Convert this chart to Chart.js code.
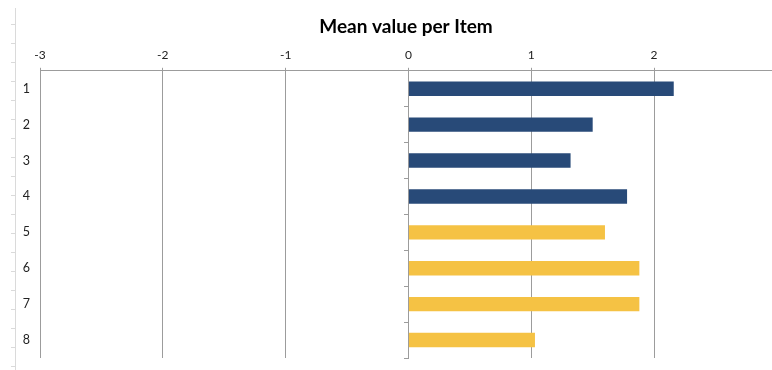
<!DOCTYPE html>
<html>
<head>
<meta charset="utf-8">
<script src="https://cdn.jsdelivr.net/npm/chart.js@4"></script>
<style>
  html, body { margin: 0; padding: 0; background: #fff; }
  #wrap { width: 772px; height: 370px; position: relative; }
</style>
</head>
<body>
<div id="wrap"><canvas id="myChart"></canvas></div>
<script>
// items and their mean values
const items = ['1', '2', '3', '4', '5', '6', '7', '8'];
const means = [2.16, 1.5, 1.32, 1.78, 1.6, 1.88, 1.88, 1.03];
const firstBlock = 4; // items 1-4 drawn in blue, the rest in yellow

const BLUE = '#284a78';
const YELLOW = '#f5c244';
const GRID = '#9c9c9c';

// thin spreadsheet edge on the left side
const sheetEdge = {
    id: 'sheetEdge',
    beforeDraw(chart) {
        const ctx = chart.ctx;
        ctx.save();
        ctx.strokeStyle = '#dadada';
        ctx.lineWidth = 1;
        ctx.beginPath();
        ctx.moveTo(15.5, 8);
        ctx.lineTo(15.5, chart.height);
        for (let y = 23.5; y < chart.height; y += 19) {
            ctx.moveTo(11, Math.round(y) + 0.5);
            ctx.lineTo(15, Math.round(y) + 0.5);
        }
        ctx.stroke();
        ctx.restore();
    }
};

const ctx = document.getElementById('myChart').getContext('2d');
const myChart = new Chart(ctx, {
    type: 'bar',
    data: {
        labels: items,
        datasets: [{
            label: 'Mean value',
            data: means,
            yAxisID: 'y',
            backgroundColor: means.map((v, i) => i < firstBlock ? BLUE : YELLOW),
            barPercentage: 0.4,
            categoryPercentage: 1
        }]
    },
    options: {
        indexAxis: 'y',
        responsive: true,
        maintainAspectRatio: false,
        animation: false,
        layout: { padding: { top: 0, left: 0, right: 0, bottom: 12 } },
        plugins: {
            legend: { display: false },
            tooltip: { enabled: false },
            title: {
                display: true,
                fullSize: false, // centre over the plot, not the canvas
                text: 'Mean value per Item',
                color: '#000',
                font: { family: 'Lato', size: 19, weight: 'bold' },
                padding: { top: 15, bottom: 5 }
            }
        },
        scales: {
            x: {
                position: 'top',
                min: -3,
                max: 2.96,
                afterFit: s => { s.height = 28; },
                ticks: {
                    stepSize: 1,
                    includeBounds: false,
                    color: '#222',
                    padding: 5,
                    font: { family: 'Lato', size: 12 }
                },
                grid: { color: GRID, lineWidth: 1, tickLength: 3 },
                border: { color: GRID, width: 1 }
            },
            y: {
                afterFit: s => {
                    s.width = 40;
                    s.paddingTop = 0;
                    s.paddingBottom = 0;
                },
                // hidden tick marks only push the labels away from the plot
                grid: { display: false, drawTicks: true, tickLength: 10 },
                border: { display: false },
                ticks: {
                    color: '#222',
                    padding: 0,
                    font: { family: 'Lato', size: 12.5 }
                }
            },
            // the zero axis with marks between items
            y2: {
                type: 'category',
                axis: 'y',
                position: { x: 0 },
                offset: true,
                ticks: { display: false },
                grid: {
                    offset: true,
                    drawOnChartArea: false,
                    drawTicks: true,
                    tickLength: 4,
                    color: GRID
                },
                border: { color: GRID, width: 1 }
            }
        }
    },
    plugins: [sheetEdge]
});
</script>
</body>
</html>
